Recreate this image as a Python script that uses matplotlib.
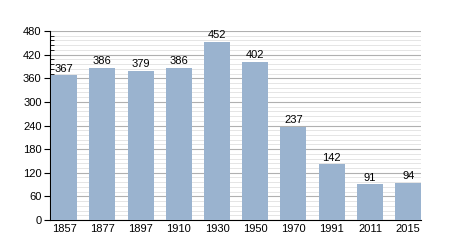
import matplotlib
matplotlib.use("Agg")
import matplotlib.pyplot as plt
from matplotlib.ticker import MultipleLocator

years = ["1857", "1877", "1897", "1910", "1930", "1950", "1970", "1991", "2011", "2015"]
population = [367, 386, 379, 386, 452, 402, 237, 142, 91, 94]

plt.rcParams["font.family"] = ["Liberation Sans", "DejaVu Sans"]

fig = plt.figure(figsize=(4.5, 2.5), dpi=100)
ax = fig.add_axes([0.111, 0.12, 0.825, 0.756])

w = 0.68
xs = list(range(len(years)))
ax.bar(xs, population, width=w, align="edge", color="#9ab3cf", zorder=3)

# value labels on top of bars
for x, v in zip(xs, population):
    ax.text(x + w / 2, v + 4, str(v), ha="center", va="bottom", fontsize=8, zorder=4)

ax.set_xlim(-0.03, len(years) - 1 + w)
ax.set_ylim(0, 480)
ax.set_xticks([x + w / 2 for x in xs])
ax.set_xticklabels(years)
ax.yaxis.set_major_locator(MultipleLocator(60))
ax.yaxis.set_minor_locator(MultipleLocator(12))

ax.grid(axis="y", which="major", color="#b0b0b0", linewidth=0.8, zorder=0)
ax.grid(axis="y", which="minor", color="#e0e0e0", linewidth=0.6, zorder=0)

for s in ["top", "right"]:
    ax.spines[s].set_visible(False)

ax.tick_params(axis="x", length=0, labelsize=8, pad=3)
ax.tick_params(axis="y", which="major", length=4, direction="out", labelsize=8, pad=2)
ax.tick_params(axis="y", which="minor", length=3, direction="in")

fig.savefig("out.png", dpi=100)
plt.close(fig)
